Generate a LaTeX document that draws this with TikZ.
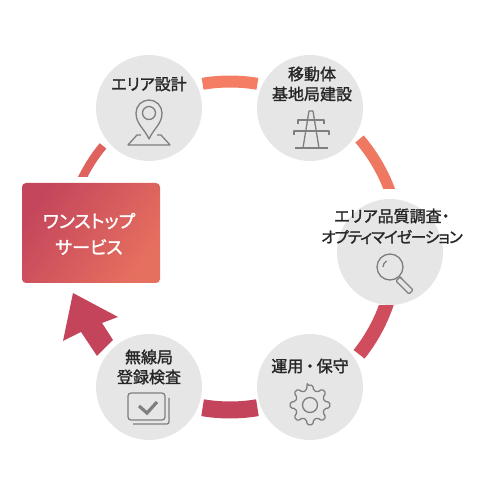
\documentclass[tikz,border=0pt]{standalone}
\usepackage{fontspec}
\newfontfamily\jpfont[RawFeature=+palt, FakeBold=1.5]{Noto Sans CJK JP}
\newfontfamily\jpnarrow[RawFeature=+palt, FakeBold=1.5, LetterSpace=-6]{Noto Sans CJK JP}
\definecolor{ringtop}{HTML}{F47D63}
\definecolor{ringup}{HTML}{EF7862}
\definecolor{ringleft}{HTML}{E0625F}
\definecolor{ringlow}{HTML}{CF4D5D}
\definecolor{ringbot}{HTML}{C4445B}
\definecolor{boxleft}{HTML}{C4465C}
\definecolor{boxright}{HTML}{E6705F}
\definecolor{discgray}{HTML}{E6E6E6}
\definecolor{icongray}{HTML}{7F7F7F}
\definecolor{labelgray}{HTML}{262626}
\tikzset{
  disc/.style={circle, fill=discgray, minimum size=106pt, inner sep=0pt},
  steptext/.style={font=\jpfont\fontsize{16pt}{18pt}\selectfont, text=labelgray, inner sep=0pt},
  boxtext/.style={font=\jpfont\fontsize{18pt}{20pt}\selectfont, text=white, inner sep=0pt},
  ringarc/.style={line cap=butt},
  icon/.style={draw=icongray, line width=1.3pt, line join=round},
}
\begin{document}
\begin{tikzpicture}[x=1pt, y=1pt]
  \useasboundingbox (0,0) rectangle (480,496);
  % ring pieces
  \draw[ringarc, ringtop, line width=12pt] (257.4,412.2) arc[start angle=80.5, end angle=99.5, radius=166];
  \begin{scope}
    \clip (340,307) rectangle (420,370);
    \draw[ringarc, ringup, line width=11pt] (359.5,357.0) arc[start angle=40.6, end angle=17, radius=170];
  \end{scope}
  \begin{scope}
    \clip (340,130) rectangle (420,190);
    \draw[ringarc, ringlow, line width=14pt] (387.4,194.2) arc[start angle=-18, end angle=-38.7, radius=166];
  \end{scope}
  \draw[ringarc, ringbot, line width=17pt] (257.4,88.3) arc[start angle=-80.5, end angle=-99.5, radius=166];
  \begin{scope}
    \clip (60,319) rectangle (120,360);
    \draw[ringarc, ringleft, line width=8.5pt] (103.0,350.1) arc[start angle=140.4, end angle=156, radius=164];
  \end{scope}
  % arrow into the box
  \fill[ringbot] (73,203) -- (118,179) -- (102,173) -- (113,156) -- (97,140) -- (81,164) -- (63,155) -- cycle;
  % discs
  \node[disc] (design) at (149,388) {};
  \node[disc] (build) at (310,388) {};
  \node[disc] (survey) at (390,244) {};
  \node[disc] (operate) at (310,109) {};
  \node[disc] (license) at (149,109) {};
  % box
  \node[rounded corners=4pt, minimum width=138pt, minimum height=100pt, inner sep=0pt,
    shade, shading=axis, left color=boxleft, right color=boxright, shading angle=55] (service) at (91,263) {};
  % labels
  \node[steptext] (designtext) at (149,412) {エリア設計};
  \node[steptext] (buildtext1) at (312,422) {移動体};
  \node[steptext] (buildtext2) at (312,402) {基地局建設};
  \node[steptext] (surveytext1) at (392,280) {エリア品質調査・};
  \node[steptext, font=\jpnarrow\fontsize{15.5pt}{18pt}\selectfont] (surveytext2) at (392,259) {オプティマイゼーション};
  \node[steptext] (operatetext) at (310,130) {運用\,・\,保守};
  \node[steptext] (licensetext1) at (149,139) {無線局};
  \node[steptext] (licensetext2) at (149,119) {登録検査};
  \node[boxtext] (servicetext1) at (89,275) {ワンストップ};
  \node[boxtext] (servicetext2) at (89,249) {サービス};
  % pin
  \draw[icon] (149,357) .. controls (144,368) and (136,372) .. (136,383) arc[start angle=180, end angle=0, radius=13] .. controls (162,372) and (154,368) .. (149,357) -- cycle;
  \draw[icon] (149,383) circle (6.5);
  \draw[icon] (141,361) -- (137,361) -- (128,351) -- (170,351) -- (161,361) -- (157,361);
  % tower
  \draw[icon] (295,348) -- (328,348);
  \draw[icon] (303,348) -- (309,385) -- (313,385) -- (319,348);
  \draw[icon] (298,372) -- (298,376) -- (324,376) -- (324,372);
  \draw[icon] (294,361) -- (294,365) -- (329,365) -- (329,361);
  % lens
  \draw[icon] (390,229) circle (13);
  \draw[icon] (383,229) arc[start angle=180, end angle=120, radius=7];
  \draw[icon] (399.5,219.5) -- (402,217);
  \draw[icon, rounded corners=1pt] (400,219) -- (404,215) -- (413,206) -- (409,202) -- (396,215) -- cycle;
  % gear
  \draw[icon, rounded corners=1.5pt] ({310+20*sin(-8)},{91+20*cos(-8)}) \foreach \a in {0,45,...,315} {
    -- ({310+20*sin(\a-8)},{91+20*cos(\a-8)}) -- ({310+20*sin(\a+8)},{91+20*cos(\a+8)})
    -- ({310+15*sin(\a+14)},{91+15*cos(\a+14)}) -- ({310+15*sin(\a+31)},{91+15*cos(\a+31)})
  } -- cycle;
  \draw[icon] (310,91) circle (7.5);
  % check card
  \draw[icon, rounded corners=3pt] (128,76) rectangle (165,103);
  \draw[icon, rounded corners=2pt] (169,98) -- (169,72) -- (133,72);
  \draw[icongray, line width=3.2pt] (139,90) -- (147,83) -- (157,94);
\end{tikzpicture}
\end{document}
